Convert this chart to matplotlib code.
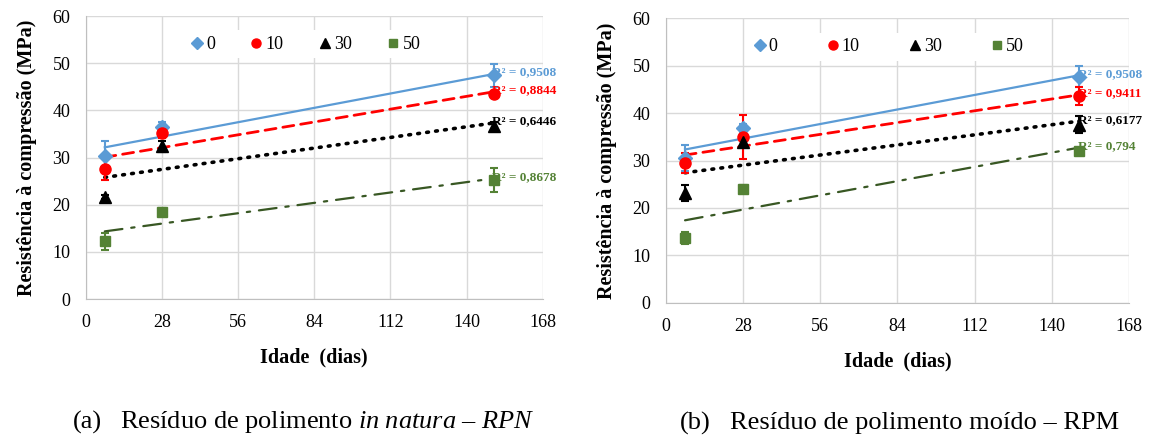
import numpy as np
import matplotlib
matplotlib.use("Agg")
import matplotlib.pyplot as plt
from matplotlib.lines import Line2D

plt.rcParams['font.family'] = ['Liberation Serif', 'DejaVu Serif']
plt.rcParams['mathtext.fontset'] = 'custom'
plt.rcParams['mathtext.rm'] = 'Liberation Serif'
plt.rcParams['mathtext.it'] = 'Liberation Serif:italic'

# idade (dias)
ages = [7, 28, 150]
series = ['0', '10', '30', '50']

# (a) RPN - in natura
rpn_mean = {'0': [30.4, 36.5, 47.4], '10': [27.5, 35.1, 43.5],
            '30': [21.6, 32.4, 36.6], '50': [12.2, 18.5, 25.2]}
rpn_err = {'0': [3.0, 1.0, 2.5], '10': [2.2, 1.0, 0.5],
           '30': [0.4, 1.2, 1.0], '50': [1.9, 0.7, 2.6]}
rpn_r2 = {'0': 'R² = 0,9508', '10': 'R² = 0,8844', '30': 'R² = 0,6446', '50': 'R² = 0,8678'}

# (b) RPM - moído
rpm_mean = {'0': [30.5, 36.8, 47.7], '10': [29.5, 35.0, 43.6],
            '30': [23.2, 34.0, 37.6], '50': [13.6, 24.1, 32.1]}
rpm_err = {'0': [2.8, 1.0, 2.2], '10': [2.1, 4.6, 1.9],
           '30': [1.7, 1.0, 1.8], '50': [1.3, 0.7, 0.4]}
rpm_r2 = {'0': 'R² = 0,9508', '10': 'R² = 0,9411', '30': 'R² = 0,6177', '50': 'R² = 0,794'}

styles = {
    '0': dict(color='#5B9BD5', marker='D', ms=7.5, ls='-', lw=1.6, tcolor='#5B9BD5'),
    '10': dict(color='#FF0000', marker='o', ms=8, ls=(0, (4, 2.5)), lw=2.0, tcolor='#FF0000'),
    '30': dict(color='#000000', marker='^', ms=8, ls=(0, (0.5, 2.0)), lw=2.6, tcolor='#000000'),
    '50': dict(color='#548235', marker='s', ms=7, ls=(0, (8, 4, 1.5, 4)), lw=1.6, tcolor='#385723'),
}


def draw(ax, means, errs, r2, colspace):
    handles = []
    for s in series:
        st = styles[s]
        y = np.array(means[s])
        ax.errorbar(ages, y, yerr=errs[s], fmt=st['marker'], color=st['color'],
                    ms=st['ms'], capsize=3, elinewidth=1.5, capthick=1.5, zorder=4)
        # linear trendline (Excel style)
        k, b = np.polyfit(ages, y, 1)
        xs = np.array([ages[0], ages[-1]])
        ax.plot(xs, k * xs + b, color=st['tcolor'], ls=st['ls'], lw=st['lw'],
                dash_capstyle='round', zorder=3)
        ax.text(ages[-1] - 0.5, k * ages[-1] + b + 0.3, r2[s], color=st['color'],
                fontsize=9.5, fontweight='bold', ha='left', va='center', zorder=5)
        handles.append(Line2D([], [], ls='none', marker=st['marker'], color=st['color'],
                              ms=st['ms'] - 1.5, label=s))
    ax.set_xlim(0, 168)
    ax.set_ylim(0, 60)
    ax.set_xticks(np.arange(0, 169, 28))
    ax.set_yticks(np.arange(0, 61, 10))
    ax.grid(True, color='#D9D9D9', lw=1)
    ax.set_axisbelow(True)
    for sp in ['top', 'right']:
        ax.spines[sp].set_visible(False)
    for sp in ['left', 'bottom']:
        ax.spines[sp].set_color('#BFBFBF')
    ax.tick_params(length=0, labelsize=13, pad=11)
    ax.set_xlabel('Idade  (dias)', fontsize=14.5, fontweight='bold', labelpad=12)
    ax.set_ylabel('Resistência à compressão (MPa)', fontsize=14.5, fontweight='bold', labelpad=11)
    ax.legend(handles=handles, loc='center', bbox_to_anchor=(0.48, 0.9), ncol=4, frameon=True,
              fancybox=False, edgecolor='none', facecolor='white', framealpha=1,
              fontsize=13, handletextpad=0.1, columnspacing=colspace, handlelength=0.8,
              borderpad=0.3)


fig = plt.figure(figsize=(11.51, 4.36), dpi=100)
ax1 = fig.add_axes([0.0745, 0.3142, 0.397, 0.649])
ax2 = fig.add_axes([0.5784, 0.3057, 0.4025, 0.652])
draw(ax1, rpn_mean, rpn_err, rpn_r2, 1.9)
draw(ax2, rpm_mean, rpm_err, rpm_r2, 2.65)

fig.text(73 / 1151, 1 - 422 / 436, '(a)', ha='left', va='center', fontsize=19)
fig.text(120 / 1151, 1 - 422 / 436, r'Resíduo de polimento $\it{in\ natura}$ – $\it{RPN}$',
         ha='left', va='center', fontsize=19)
fig.text(680 / 1151, 1 - 423 / 436, '(b)', ha='left', va='center', fontsize=19)
fig.text(730 / 1151, 1 - 423 / 436, 'Resíduo de polimento moído – RPM',
         ha='left', va='center', fontsize=19)

fig.savefig('out.png', dpi=100)
